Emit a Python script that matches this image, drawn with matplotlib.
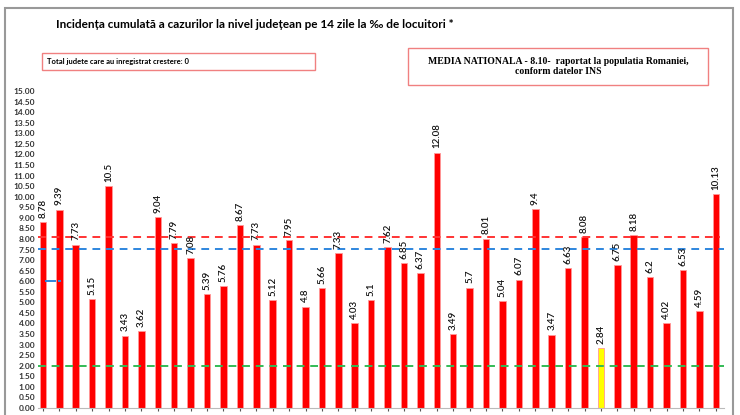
import numpy as np
import matplotlib
matplotlib.use("Agg")
import matplotlib.pyplot as plt
from matplotlib.patches import Rectangle

# valorile incidentei pe judete
labels = ["8.78", "9.39", "7.73", "5.15", "10.5", "3.43", "3.62", "9.04", "7.79", "7.08",
          "5.39", "5.76", "8.67", "7.73", "5.12", "7.95", "4.8", "5.66", "7.33", "4.03",
          "5.1", "7.62", "6.85", "6.37", "12.08", "3.49", "5.7", "8.01", "5.04", "6.07",
          "9.4", "3.47", "6.63", "8.08", "2.84", "6.75", "8.18", "6.2", "4.02", "6.53",
          "4.59", "10.13"]
values = [float(v) for v in labels]
highlight = [34]  # bara galbena
media_nationala = 8.10
prag_albastru = 7.50
prag_verde = 2.00
yticks = np.arange(0, 15.01, 0.5)

plt.rcParams['font.family'] = ['Lato', 'DejaVu Sans']

W, H = 740, 415
fig = plt.figure(figsize=(W / 100, H / 100), dpi=100)
ax = fig.add_axes([38 / W, 7 / H, (724 - 38) / W, (408 - 91) / H])

x = np.arange(len(values))
colors = ['#FFFF00' if i in highlight else '#FF0000' for i in x]
ax.bar(x, values, width=0.4, color=colors, edgecolor='#FF9999', linewidth=0.6, zorder=2)

for xi, v, s in zip(x, values, labels):
    ax.text(xi, v + 0.2, s, rotation=90, ha='center', va='bottom',
            fontsize=7, color='#111111', fontweight='semibold', zorder=4)

n = len(values)
ax.plot([-0.3, n - 1 + 0.25], [media_nationala] * 2, color='#FF3333', lw=1.4,
        dashes=(4, 3), zorder=3)
ax.plot([-0.3, n - 1 + 0.5], [prag_albastru] * 2, color='#2E86DE', lw=1.4,
        dashes=(4, 3), zorder=3)
ax.plot([-0.3, n - 1 + 0.7], [prag_verde] * 2, color='#33BB55', lw=1.4,
        dashes=(4, 3), zorder=3)
ax.plot([0.2, 0.75], [6.0, 6.0], color='#2E86DE', lw=1.4, zorder=3)
ax.plot([0.98, 1.05], [6.0, 6.0], color='#2E86DE', lw=1.4, zorder=3)

ax.set_xlim(-0.3, n - 1 + 0.5)
ax.set_ylim(0, 15)
ax.set_yticks(yticks)
ax.set_yticklabels(["%.2f" % t for t in yticks], fontsize=6, fontweight='bold', color='#333333')
ax.set_xticks(x)
ax.set_xticklabels([])
ax.tick_params(axis='y', length=0, pad=2)
ax.tick_params(axis='x', length=2, color='#555555')
for s in ['top', 'right', 'left']:
    ax.spines[s].set_visible(False)
ax.spines['bottom'].set_color('#BBBBBB')

# chenarul exterior
fig.patches.append(Rectangle((5 / W, -0.05), (733 - 5) / W, 1.05 - 8 / H,
                             transform=fig.transFigure, fill=False,
                             edgecolor='#999999', lw=1.5))

fig.text(255 / W, 1 - 24 / H,
         "Incidența cumulată a cazurilor la nivel județean pe 14 zile la ‰ de locuitori *",
         ha='center', va='center', fontsize=8.5, fontweight='bold')

fig.patches.append(Rectangle((42 / W, 1 - 70 / H), (315 - 42) / W, 17 / H,
                             transform=fig.transFigure, fill=False,
                             edgecolor='#F08080', lw=1))
fig.text(47 / W, 1 - 61.5 / H, "Total judete care au inregistrat crestere: 0",
         ha='left', va='center', fontsize=5.5, fontweight='bold')

fig.patches.append(Rectangle((408 / W, 1 - 85 / H), (708 - 408) / W, 37 / H,
                             transform=fig.transFigure, fill=False,
                             edgecolor='#F08080', lw=1))
fig.text(558 / W, 1 - 66.5 / H,
         "MEDIA NATIONALA - 8.10-  raportat la populatia Romaniei,\nconform datelor INS",
         ha='center', va='center', fontsize=7, fontweight='bold',
         family='Liberation Serif', linespacing=1.1)

fig.savefig("out.png", dpi=100)
